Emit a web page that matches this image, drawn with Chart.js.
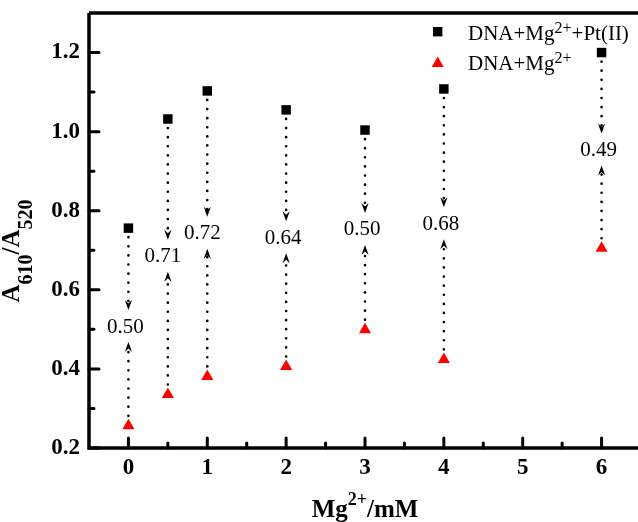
<!DOCTYPE html>
<html>
<head>
<meta charset="utf-8">
<script src="https://cdn.jsdelivr.net/npm/chart.js@4.4.1/dist/chart.umd.min.js"></script>
<style>
  html, body { margin: 0; padding: 0; background: #fff; overflow: hidden; }
</style>
</head>
<body>
<canvas id="graph" width="650" height="522"></canvas>
<script>
// ---------------------------- data ---------------------------- >>
const mgConc = [0, 0.5, 1, 2, 3, 4, 6];
const withPt = [0.756, 1.032, 1.103, 1.055, 1.004, 1.108, 1.200];
const withoutPt = [0.256, 0.335, 0.381, 0.406, 0.499, 0.424, 0.705];
const ratioLabels = ['0.50', '0.71', '0.72', '0.64', '0.50', '0.68', '0.49'];
const xTicks = [0, 1, 2, 3, 4, 5, 6];
const xMinor = [0.5, 1.5, 2.5, 3.5, 4.5, 5.5];
const yTicks = [0.2, 0.4, 0.6, 0.8, 1.0, 1.2];
const yMinor = [0.3, 0.5, 0.7, 0.9, 1.1];

const serif = "'Liberation Serif', 'Times New Roman', serif";

// draw text made of parts: [text, kind] kind 0 normal, 1 subscript, 2 superscript
function richText(ctx, parts, x, y, o) {
  let specs = parts.map(([t, k]) => {
    const s = k === 1 ? o.sub : k === 2 ? o.sup : o.size;
    return { t: t, k: k, font: o.weight + ' ' + s + 'px ' + serif };
  });
  let w = 0;
  specs.forEach(p => { ctx.font = p.font; p.w = ctx.measureText(p.t).width; w += p.w; });
  let cx = o.align === 'center' ? x - w / 2 : x;
  ctx.textAlign = 'left';
  ctx.textBaseline = 'alphabetic';
  specs.forEach(p => {
    ctx.font = p.font;
    const dy = p.k === 1 ? o.drop : p.k === 2 ? -o.rise : 0;
    ctx.fillText(p.t, cx, y + dy);
    cx += p.w;
  });
}

function arrowHead(ctx, x, tip, dir) {
  // dir 1 = pointing down, -1 = pointing up
  ctx.beginPath();
  ctx.moveTo(x, tip);
  ctx.lineTo(x - 3.6, tip - dir * 10);
  ctx.lineTo(x, tip - dir * 6.5);
  ctx.lineTo(x + 3.6, tip - dir * 10);
  ctx.closePath();
  ctx.fill();
}

function dotted(ctx, x, y1, y2) {
  ctx.save();
  ctx.setLineDash([0.1, 9]);
  ctx.lineCap = 'round';
  ctx.lineWidth = 2.6;
  ctx.beginPath();
  ctx.moveTo(x, y1);
  ctx.lineTo(x, y2);
  ctx.stroke();
  ctx.restore();
}

const decor = {
  id: 'decor',
  beforeDatasetsDraw(chart) {
    const ctx = chart.ctx, a = chart.chartArea;
    const xs = chart.scales.x, ys = chart.scales.y;
    ctx.save();
    ctx.strokeStyle = '#000';
    ctx.fillStyle = '#000';

    // frame
    ctx.lineWidth = 3.5;
    ctx.beginPath();
    ctx.moveTo(a.left, a.top);
    ctx.lineTo(a.left, a.bottom);
    ctx.lineTo(a.right, a.bottom);
    ctx.moveTo(a.left, a.top);
    ctx.lineTo(a.right, a.top);
    ctx.lineTo(a.right, a.bottom);
    ctx.stroke();

    // inward ticks
    ctx.lineCap = 'round';
    ctx.lineWidth = 3;
    ctx.beginPath();
    yTicks.forEach(v => { const p = ys.getPixelForValue(v); ctx.moveTo(a.left, p); ctx.lineTo(a.left + 10, p); });
    yMinor.forEach(v => { const p = ys.getPixelForValue(v); ctx.moveTo(a.left, p); ctx.lineTo(a.left + 5, p); });
    xTicks.forEach(v => { const p = xs.getPixelForValue(v); ctx.moveTo(p, a.bottom); ctx.lineTo(p, a.bottom - 10); });
    xMinor.forEach(v => { const p = xs.getPixelForValue(v); ctx.moveTo(p, a.bottom); ctx.lineTo(p, a.bottom - 5); });
    ctx.stroke();

    // dotted arrows with ratio labels
    mgConc.forEach((c, i) => {
      const x = xs.getPixelForValue(c);
      const yt = ys.getPixelForValue(withPt[i]);
      const yb = ys.getPixelForValue(withoutPt[i]);
      const mid = (yt + yb) / 2;
      const downTip = mid - 17, upTip = mid + 15;
      dotted(ctx, x, yt + 9, downTip - 7);
      arrowHead(ctx, x, downTip, 1);
      dotted(ctx, x, yb - 10, upTip + 7);
      arrowHead(ctx, x, upTip, -1);
      ctx.font = '21px ' + serif;
      ctx.textAlign = 'center';
      ctx.textBaseline = 'middle';
      const nudge = (i === 1 || i === 2) ? -5 : -3;
      ctx.fillText(ratioLabels[i], x + nudge, mid);
    });
    ctx.restore();
  },
  afterDraw(chart) {
    const ctx = chart.ctx, a = chart.chartArea;
    ctx.save();
    ctx.fillStyle = '#000';

    // x title
    richText(ctx, [['Mg', 0], ['2+', 2], ['/mM', 0]], (a.left + a.right) / 2, 517,
      { size: 25, sub: 18, sup: 18, weight: 'bold', rise: 12, drop: 0, align: 'center' });

    // y title
    ctx.save();
    ctx.translate(19, 251);
    ctx.rotate(-Math.PI / 2);
    richText(ctx, [['A', 0], ['610', 1], ['/A', 0], ['520', 1]], 0, 0,
      { size: 25, sub: 20, sup: 20, weight: 'bold', rise: 0, drop: 13, align: 'center' });
    ctx.restore();

    // legend
    ctx.fillStyle = '#000';
    ctx.fillRect(437.7 - 4.7, 31.7 - 4.7, 9.4, 9.4);
    ctx.fillStyle = '#ff0000';
    ctx.beginPath();
    ctx.moveTo(437.7, 56.5);
    ctx.lineTo(437.7 + 6, 67);
    ctx.lineTo(437.7 - 6, 67);
    ctx.closePath();
    ctx.fill();
    ctx.fillStyle = '#000';
    richText(ctx, [['DNA+Mg', 0], ['2+', 2], ['+Pt(II)', 0]], 468, 39.5,
      { size: 21, sub: 16, sup: 16, weight: 'normal', rise: 7, drop: 0, align: 'left' });
    richText(ctx, [['DNA+Mg', 0], ['2+', 2]], 468, 69.5,
      { size: 21, sub: 16, sup: 16, weight: 'normal', rise: 7, drop: 0, align: 'left' });
    ctx.restore();
  }
};

const ctx = document.getElementById('graph').getContext('2d');
const myChart = new Chart(ctx, {
  type: 'scatter',
  data: {
    datasets: [{
      label: 'DNA+Mg2+ +Pt(II)',
      data: mgConc.map((c, i) => ({ x: c, y: withPt[i] })),
      pointStyle: 'rect',
      pointRadius: 6.7,
      backgroundColor: '#000',
      borderWidth: 0
    }, {
      label: 'DNA+Mg2+',
      data: mgConc.map((c, i) => ({ x: c, y: withoutPt[i] })),
      pointStyle: 'triangle',
      pointRadius: 7,
      backgroundColor: '#ff0000',
      borderWidth: 0
    }]
  },
  options: {
    responsive: false,
    animation: false,
    devicePixelRatio: 1,
    layout: { padding: { top: 13, right: 9, left: 0, bottom: 0 } },
    plugins: { legend: { display: false }, tooltip: { enabled: false } },
    scales: {
      x: {
        type: 'linear',
        min: -0.5,
        max: 6.5,
        grid: { display: false, drawTicks: false },
        border: { display: false },
        afterBuildTicks: s => { s.ticks = xTicks.map(v => ({ value: v })); },
        afterFit: s => { s.height = 74; s.paddingLeft = 0; s.paddingRight = 0; },
        ticks: {
          color: '#000',
          padding: 6,
          maxRotation: 0,
          font: { family: serif, size: 23, weight: 'bold' },
          callback: v => String(v)
        }
      },
      y: {
        min: 0.2,
        max: 1.3,
        grid: { display: false, drawTicks: false },
        border: { display: false },
        afterBuildTicks: s => { s.ticks = yTicks.map(v => ({ value: v })); },
        afterFit: s => { s.width = 89; s.paddingTop = 0; s.paddingBottom = 0; },
        ticks: {
          color: '#000',
          padding: 9,
          font: { family: serif, size: 23, weight: 'bold' },
          callback: v => v.toFixed(1)
        }
      }
    }
  },
  plugins: [decor]
});
</script>
</body>
</html>
